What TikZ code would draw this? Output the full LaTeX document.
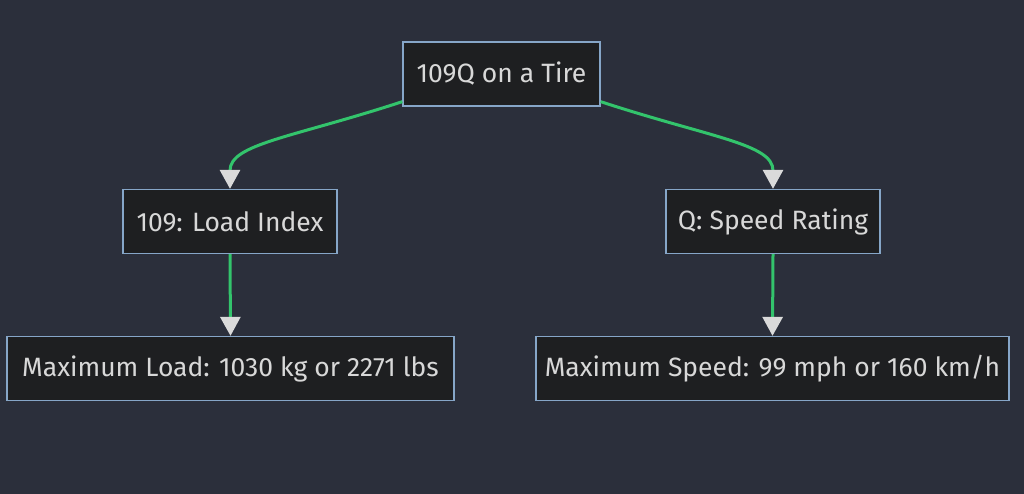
\documentclass[tikz,border=0pt]{standalone}
\usepackage{fontspec}
\setmainfont{Fira Sans}
\usetikzlibrary{arrows.meta}
\definecolor{bgc}{HTML}{2B2F3B}
\definecolor{nodefill}{HTML}{1E1F21}
\definecolor{nodeline}{HTML}{86A6C8}
\definecolor{txt}{HTML}{D8D8D8}
\definecolor{edgec}{HTML}{33C46C}
\definecolor{tipc}{HTML}{DADADA}
\tikzset{
  box/.style={draw=nodeline, fill=nodefill, line width=1.3pt, text=txt,
    font=\fontsize{26.5}{30}\selectfont, inner sep=0pt, minimum height=64pt, anchor=center},
  edge/.style={draw=edgec, line width=3pt,
    -{Triangle[length=19pt,width=20pt,fill=tipc,color=tipc]}},
}
\begin{document}
\begin{tikzpicture}[x=1pt,y=-1pt]
\fill[bgc] (0,0) rectangle (1024,494);
\useasboundingbox (0,0) rectangle (1024,494);
\node[box, minimum width=197pt] (top) at (501.5,74) {109Q on a Tire};
\node[box, minimum width=214pt] (lidx) at (230,221.5) {109: Load Index};
\node[box, minimum width=214pt] (srat) at (773,221.5) {Q: Speed Rating};
\node[box, minimum width=447pt] (mload) at (230.5,368.5) {Maximum Load: 1030 kg or 2271 lbs};
\node[box, minimum width=473pt] (mspeed) at (772.5,368.5) {Maximum Speed: 99 mph or 160 km/h};
\draw[edge] ([yshift=5pt]top.south west) .. controls +(-110,36) and +(0,-45) .. (lidx.north);
\draw[edge] ([yshift=5pt]top.south east) .. controls +(110,36) and +(0,-45) .. (srat.north);
\draw[edge] (lidx.south) -- (mload.north);
\draw[edge] (srat.south) -- (mspeed.north);
\end{tikzpicture}
\end{document}
